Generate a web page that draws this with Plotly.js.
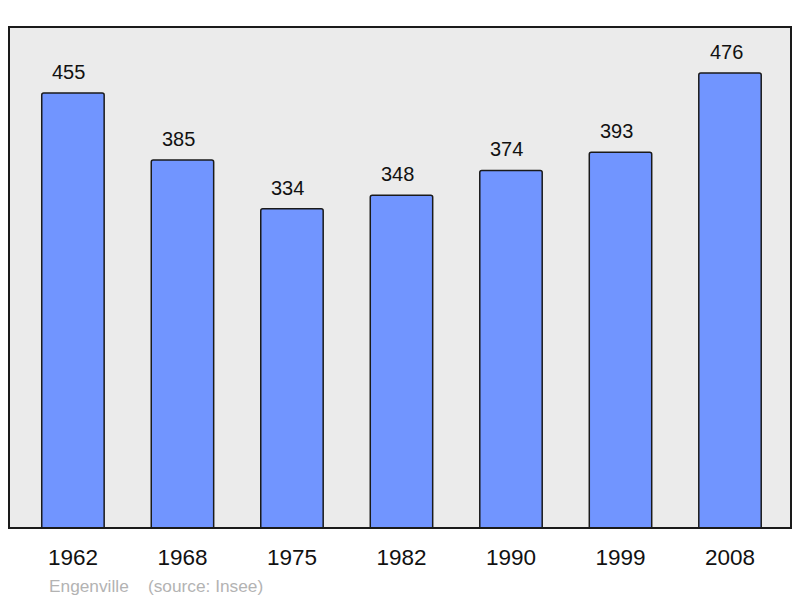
<!DOCTYPE html>
<html><head><meta charset="utf-8">
<script src="https://cdn.plot.ly/plotly-3.0.1.min.js"></script>
<style>html,body{margin:0;padding:0;background:#fff}</style>
</head><body>
<div id="chart" style="width:800px;height:598px"></div>
<script>
const years = ["1962","1968","1975","1982","1990","1999","2008"];
const population = [455,385,334,348,374,393,476];
const sourceText = "Engenville\u00a0\u00a0\u00a0\u00a0(source: Insee)";

const trace = {
  type: "bar",
  x: years.map((_, i) => i),
  y: population,
  width: 0.57,
  marker: {color: "#7195ff", line: {color: "#1a1a1a", width: 1.5}, cornerradius: 2},
  hoverinfo: "none"
};

const annotations = population.map((v, i) => ({
  x: i, y: v, xref: "x", yref: "y", text: String(v), showarrow: false,
  yanchor: "bottom", yshift: 8, xshift: -4,
  font: {family: "Liberation Sans, Arial, sans-serif", size: 20, color: "#111"}
}));
annotations.push({
  xref: "paper", yref: "paper", x: 0.049, y: -0.115, xanchor: "left", yanchor: "middle",
  text: sourceText, showarrow: false,
  font: {family: "Liberation Sans, Arial, sans-serif", size: 17.3, color: "#b3b3b3"}
});

const layout = {
  width: 800, height: 598,
  margin: {l: 9, r: 9, t: 27, b: 70},
  paper_bgcolor: "#ffffff",
  plot_bgcolor: "#ebebeb",
  showlegend: false,
  xaxis: {
    range: [-0.584, 6.557], tickvals: years.map((_, i) => i), ticktext: years,
    showgrid: false, zeroline: false, showline: false, ticks: "",
    ticklabelstandoff: 13,
    tickfont: {family: "Liberation Sans, Arial, sans-serif", size: 22.5, color: "#111"},
    fixedrange: true
  },
  yaxis: {range: [0, 524], showgrid: false, zeroline: false, showticklabels: false, ticks: "", fixedrange: true},
  shapes: [{
    type: "rect", xref: "paper", yref: "paper", x0: 0, x1: 1, y0: 0, y1: 1,
    line: {color: "#1a1a1a", width: 2}, fillcolor: "rgba(0,0,0,0)", layer: "above"
  }],
  annotations: annotations
};

Plotly.newPlot("chart", [trace], layout, {displayModeBar: false, staticPlot: true});
</script>
</body></html>
